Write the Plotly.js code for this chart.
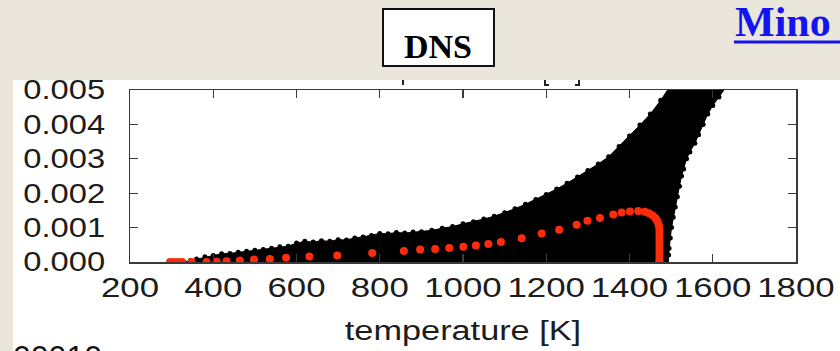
<!DOCTYPE html>
<html>
<head>
<meta charset="utf-8">
<script src="https://cdn.plot.ly/plotly-3.0.1.min.js"></script>
<style>
html,body{margin:0;padding:0;background:#ebe6dc;}
#chart{width:840px;height:351px;}
</style>
</head>
<body>
<div id="chart"></div>
<script>
// ---- data ----
// upper-left envelope of the black DNS scatter cloud (temperature K, value)
const cloudUpperT = [330, 345, 360, 380, 400, 420, 440, 460, 480, 500, 520, 540, 560, 580, 600, 620, 640, 660, 680, 700, 720, 740, 760, 780, 800, 820, 840, 860, 880, 900, 925, 950, 975, 1000, 1025, 1050, 1075, 1100, 1125, 1150, 1175, 1200, 1225, 1250, 1275, 1300, 1325, 1350, 1375, 1400, 1425, 1450, 1475, 1497];
const cloudUpperV = [0, 0.00004, 0.00009, 0.00015, 0.00019, 0.00024, 0.00025, 0.00028, 0.00031, 0.00034, 0.00036, 0.00040, 0.00044, 0.00046, 0.00055, 0.00060, 0.00058, 0.00062, 0.00060, 0.00065, 0.00064, 0.00070, 0.00073, 0.00077, 0.00083, 0.00082, 0.00086, 0.00084, 0.00087, 0.00088, 0.00092, 0.00098, 0.00103, 0.00111, 0.00117, 0.00125, 0.00133, 0.00143, 0.00155, 0.00168, 0.00182, 0.00196, 0.00212, 0.00229, 0.00247, 0.00266, 0.00285, 0.00306, 0.00336, 0.00366, 0.00398, 0.00430, 0.00470, 0.00510];
// right envelope of the cloud, from the top back down to the bottom
const cloudRightT = [1633, 1615, 1600, 1588, 1577, 1566, 1557, 1545, 1537, 1530, 1525, 1520, 1515, 1510, 1505, 1501, 1498, 1495, 1494, 1493, 330];
const cloudRightV = [0.0051, 0.0048, 0.00455, 0.0043, 0.0040, 0.0037, 0.00345, 0.0032, 0.0030, 0.0027, 0.0025, 0.0022, 0.0019, 0.0016, 0.0013, 0.0010, 0.0007, 0.0004, 0.0002, -0.0001, -0.0001];
// red conditional-mean points
const redT = [296, 305, 315, 325, 348, 384, 408, 432, 464, 498, 536, 575, 631, 698, 782, 858, 897, 933, 967, 1001, 1031, 1061, 1091, 1141, 1189, 1231, 1273, 1299, 1329, 1361, 1381, 1401, 1421, 1437, 1447, 1455, 1462, 1466, 1469, 1471, 1472, 1472, 1472, 1472, 1472, 1472, 1472, 1472, 1472, 1472, 1472];
const redV = [0, 0, 0, 0, 0, 0, 0.00001, 0.00002, 0.00004, 0.00007, 0.00009, 0.00012, 0.00016, 0.00019, 0.00026, 0.00032, 0.00036, 0.00038, 0.00041, 0.00044, 0.00048, 0.00052, 0.00058, 0.00069, 0.00083, 0.00094, 0.00108, 0.00120, 0.00128, 0.00138, 0.00144, 0.00147, 0.00148, 0.00146, 0.00142, 0.00136, 0.00128, 0.00121, 0.00112, 0.00103, 0.00094, 0.00085, 0.00075, 0.00065, 0.00055, 0.00045, 0.00035, 0.00025, 0.00015, 0.00005, 0];
// tick labels
const xTickVals = [200, 400, 600, 800, 1000, 1200, 1400, 1600, 1800];
const xTickText = ['200', '400', '600', '800', '1000', '1200', '1400', '1600', '1800'];
const yTickVals = [0, 0.001, 0.002, 0.003, 0.004, 0.005];
const yTickText = ['0.000', '0.001', '0.002', '0.003', '0.004', '0.005'];
const xTitle = 'temperature [K]';
const boxLabel = 'DNS';
const headerText = 'Mino';
const cornerText = '00010';

// ---- layout geometry (pixels) ----
const W = 840, H = 351;
const PL = 130, PR = 796, PT = 90, PB = 262;
const px = p => (p - PL) / (PR - PL);
const py = p => (PB - p) / (PB - PT);

const cloudT = cloudUpperT.concat(cloudRightT);
const cloudV = cloudUpperV.concat(cloudRightV);

const traces = [
  {
    x: cloudT, y: cloudV, type: 'scatter', mode: 'lines+markers',
    fill: 'toself', fillcolor: '#000000',
    line: {color: '#000000', width: 1},
    marker: {color: '#000000', size: 5},
    hoverinfo: 'skip', showlegend: false
  },
  {
    x: redT, y: redV, type: 'scatter', mode: 'markers',
    marker: {color: '#ff2c0c', size: 8},
    showlegend: false
  }
];

const fontSans = 'Liberation Sans, Arial, sans-serif';
const fontSerif = 'Liberation Serif, Times New Roman, serif';
const ink = '#1c1c1c';

const layout = {
  width: W, height: H,
  margin: {l: PL, r: W - PR, t: PT, b: H - PB, pad: 0},
  paper_bgcolor: '#ebe6dc',
  plot_bgcolor: '#ffffff',
  showlegend: false,
  font: {family: fontSans, color: ink},
  xaxis: {
    range: [200, 1800], tickvals: xTickVals, ticktext: xTickText,
    ticks: 'inside', ticklen: 8, tickwidth: 1.3, tickcolor: '#3a3a3a',
    showline: true, linecolor: '#3a3a3a', linewidth: 1.5, mirror: 'allticks',
    showgrid: false, zeroline: false, automargin: false,
    tickfont: {size: 27, family: fontSans, color: ink},
    ticklabelstandoff: 1,
    title: {text: xTitle, font: {size: 27, family: fontSans, color: ink}, standoff: 19}
  },
  yaxis: {
    range: [0, 0.005], tickvals: yTickVals, ticktext: yTickText,
    ticks: 'inside', ticklen: 8, tickwidth: 1.3, tickcolor: '#3a3a3a',
    showline: true, linecolor: '#3a3a3a', linewidth: 1.5, mirror: 'allticks',
    showgrid: false, zeroline: false, automargin: false,
    tickfont: {size: 27, family: fontSans, color: ink},
    ticklabelstandoff: 18
  },
  shapes: [
    // white chart picture pasted on the slide
    {type: 'rect', xref: 'paper', yref: 'paper', layer: 'below',
     x0: px(13), x1: px(845), y0: py(80), y1: py(360),
     fillcolor: '#ffffff', line: {width: 0}},
    // DNS box
    {type: 'rect', xref: 'paper', yref: 'paper',
     x0: px(383), x1: px(494), y0: py(9), y1: py(66),
     fillcolor: '#ffffff', line: {color: '#111111', width: 2}},
    // underline of header
    {type: 'line', xref: 'paper', yref: 'paper',
     x0: px(734), x1: px(845), y0: py(42), y1: py(42),
     line: {color: '#1414ee', width: 3}},
    // fragments of the cut-off upper title
    {type: 'line', xref: 'paper', yref: 'paper', x0: px(403), x1: px(403), y0: py(80), y1: py(85), line: {color: '#222', width: 2}},
    {type: 'path', xref: 'paper', yref: 'paper',
     path: 'M ' + px(545) + ' ' + py(80) + ' L ' + px(545) + ' ' + py(85) + ' L ' + px(549) + ' ' + py(85),
     line: {color: '#222', width: 2}},
    {type: 'path', xref: 'paper', yref: 'paper',
     path: 'M ' + px(579) + ' ' + py(80) + ' L ' + px(579) + ' ' + py(85) + ' L ' + px(575) + ' ' + py(85),
     line: {color: '#222', width: 2}}
  ],
  annotations: [
    {text: '<b>' + boxLabel + '</b>', xref: 'paper', yref: 'paper',
     x: px(438), y: py(46), xanchor: 'center', yanchor: 'middle', showarrow: false,
     font: {family: fontSerif, size: 34, color: '#000000'}},
    {text: '<b>' + headerText + '</b>', xref: 'paper', yref: 'paper',
     x: px(733), y: py(22), xanchor: 'left', yanchor: 'middle', showarrow: false,
     font: {family: fontSerif, size: 42, color: '#1414ee'}},
    {text: cornerText, xref: 'paper', yref: 'paper',
     x: px(11), y: py(337), xanchor: 'left', yanchor: 'top', showarrow: false,
     font: {family: fontSans, size: 32, color: '#111111'}}
  ]
};

// the chart picture in the slide is stretched horizontally; stretch its texts the same way
function stretchTexts(gd, selector, factor) {
  gd.querySelectorAll(selector).forEach(function (t) {
    const w = t.getComputedTextLength();
    if (w > 0) {
      t.setAttribute('textLength', (w * factor).toFixed(1));
      t.setAttribute('lengthAdjust', 'spacingAndGlyphs');
    }
  });
}

Plotly.newPlot('chart', traces, layout, {staticPlot: true, displayModeBar: false}).then(function (gd) {
  stretchTexts(gd, '.xtick text', 1.29);
  stretchTexts(gd, '.ytick text', 1.21);
  stretchTexts(gd, '.g-xtitle text', 1.27);
});
</script>
</body>
</html>
